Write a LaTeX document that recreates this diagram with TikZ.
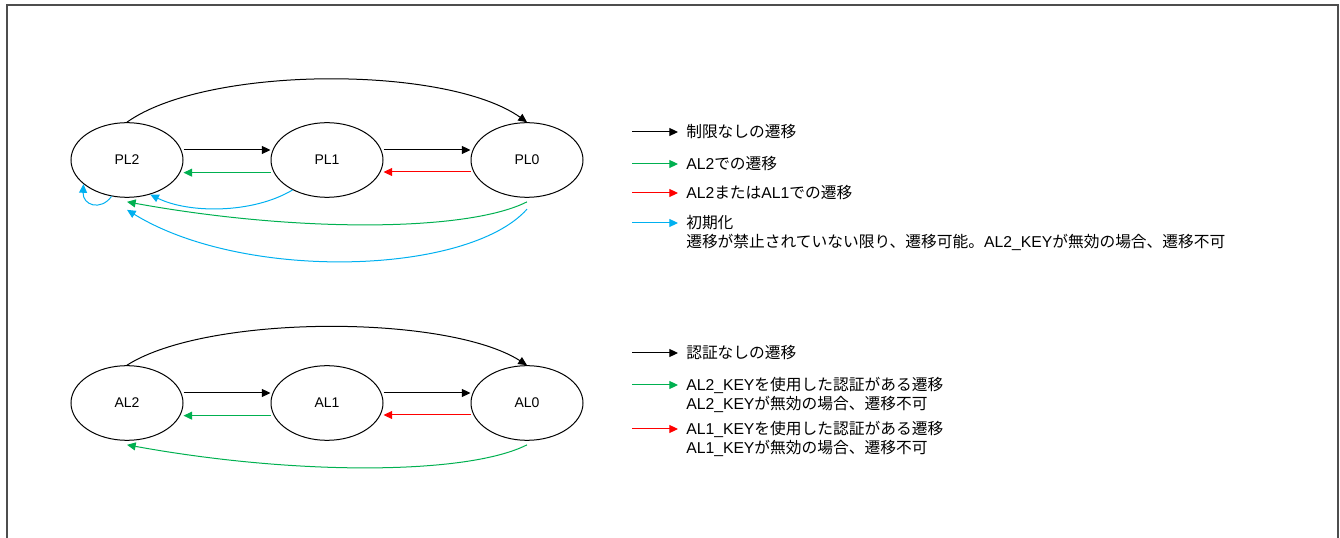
\documentclass[tikz,border=0pt]{standalone}
\usepackage{fontspec}
\setmainfont{Liberation Sans}
\newfontfamily\jpfont{Noto Sans CJK JP}
\usetikzlibrary{shapes.geometric}
\usetikzlibrary{positioning}
\usetikzlibrary{arrows.meta}
\definecolor{green}{RGB}{0,176,80}
\definecolor{red}{RGB}{255,0,0}
\definecolor{blue}{RGB}{0,176,240}
\definecolor{framegray}{RGB}{77,77,77}
\newcommand{\jtext}[1]{{\jpfont #1}}

\begin{document}
\begin{tikzpicture}[x=0.75pt, y=-0.75pt,
  state/.style={ellipse, draw, line width=0.75pt, minimum width=84pt,
    minimum height=56pt, font=\fontsize{10.5}{12}\selectfont},
  trans/.style={line width=0.75pt, -{Triangle[length=6.5pt,width=6pt]}},
  legend/.style={anchor=west, inner sep=0pt, font=\fontsize{11.8}{14}\selectfont}]

\useasboundingbox (0,0) rectangle (1340,538);

% Outer frame
\draw[framegray, line width=1.5pt] (7,545) -- (7,5) -- (1338,5) -- (1338,545);

%====================================================
% TOP ROW: PL states
%====================================================
\node[state] (PL2) at (127,160) {PL2};
\node[state] (PL1) at (327,160) {PL1};
\node[state] (PL0) at (527,160) {PL0};

% Unrestricted transitions
\draw[trans] (PL2.north) .. controls +(80,-57) and +(-80,-57) .. (PL0.north);
\draw[trans] ([yshift=7.5pt]PL2.east) -- ([yshift=7.5pt]PL1.west);
\draw[trans] ([yshift=7.5pt]PL1.east) -- ([yshift=7.5pt]PL0.west);

% AL2 / AL1 transitions
\draw[trans, green] ([yshift=-9.5pt]PL1.west) -- ([yshift=-9.5pt]PL2.east);
\draw[trans, red] ([yshift=-9pt]PL0.west) -- ([yshift=-9pt]PL1.east);
\draw[trans, green] ([yshift=-3pt]PL0.south)
    .. controls +(-59,30) and +(170,31) .. ([yshift=-3pt]PL2.south);

% Initialisation
\draw[trans, blue] (PL2.247) .. controls +(-11,15) and +(-1,21) .. (PL2.209);
\draw[trans, blue] (PL1.221) .. controls +(-40,24) and +(38,19) .. (PL2.304);
\draw[trans, blue] ([yshift=-8.5pt]PL0.south)
    .. controls +(-59,66) and +(117,72) .. ([yshift=-9pt]PL2.south);

% Legend
\node[legend] (lgFree) at (686,132) {\jtext{制限なしの遷移}};
\node[legend] (lgAL2) at (686,164) {AL2\jtext{での遷移}};
\node[legend] (lgAL1) at (686,193) {AL2\jtext{または}AL1\jtext{での遷移}};
\node[legend] (lgInit) at (686,223) {\jtext{初期化}};
\node[legend] (lgInitNote) at (686,242)
    {\jtext{遷移が禁止されていない限り、遷移可能。}AL2\_KEY\jtext{が無効の場合、遷移不可}};

\coordinate (kFree) at (632,132);
\coordinate (kAL2) at (632,164);
\coordinate (kAL1) at (632,193);
\coordinate (kInit) at (632,223);
\draw[trans] (kFree) -- ([xshift=-6pt]lgFree.west);
\draw[trans, green] (kAL2) -- ([xshift=-6pt]lgAL2.west);
\draw[trans, red] (kAL1) -- ([xshift=-6pt]lgAL1.west);
\draw[trans, blue] (kInit) -- ([xshift=-6pt]lgInit.west);

%====================================================
% BOTTOM ROW: AL states
%====================================================
\node[state] (AL2) at (127,403) {AL2};
\node[state] (AL1) at (327,403) {AL1};
\node[state] (AL0) at (527,403) {AL0};

% Transitions without authentication
\draw[trans] (AL2.north) .. controls +(80,-51) and +(-80,-51) .. (AL0.north);
\draw[trans] ([yshift=7.5pt]AL2.east) -- ([yshift=7.5pt]AL1.west);
\draw[trans] ([yshift=7.5pt]AL1.east) -- ([yshift=7.5pt]AL0.west);

% Authenticated transitions
\draw[trans, green] ([yshift=-9.5pt]AL1.west) -- ([yshift=-9.5pt]AL2.east);
\draw[trans, red] ([yshift=-9pt]AL0.west) -- ([yshift=-9pt]AL1.east);
\draw[trans, green] ([yshift=-3pt]AL0.south)
    .. controls +(-59,30) and +(170,31) .. ([yshift=-3pt]AL2.south);

% Legend
\node[legend] (lgNoAuth) at (686,353) {\jtext{認証なしの遷移}};
\node[legend] (lgKey2) at (686,385) {AL2\_KEY\jtext{を使用した認証がある遷移}};
\node[legend] (lgKey2Note) at (686,404) {AL2\_KEY\jtext{が無効の場合、遷移不可}};
\node[legend] (lgKey1) at (686,429) {AL1\_KEY\jtext{を使用した認証がある遷移}};
\node[legend] (lgKey1Note) at (686,448) {AL1\_KEY\jtext{が無効の場合、遷移不可}};

\coordinate (kNoAuth) at (632,353);
\coordinate (kKey2) at (632,385);
\coordinate (kKey1) at (632,429);
\draw[trans] (kNoAuth) -- ([xshift=-6pt]lgNoAuth.west);
\draw[trans, green] (kKey2) -- ([xshift=-6pt]lgKey2.west);
\draw[trans, red] (kKey1) -- ([xshift=-6pt]lgKey1.west);

\end{tikzpicture}
\end{document}
